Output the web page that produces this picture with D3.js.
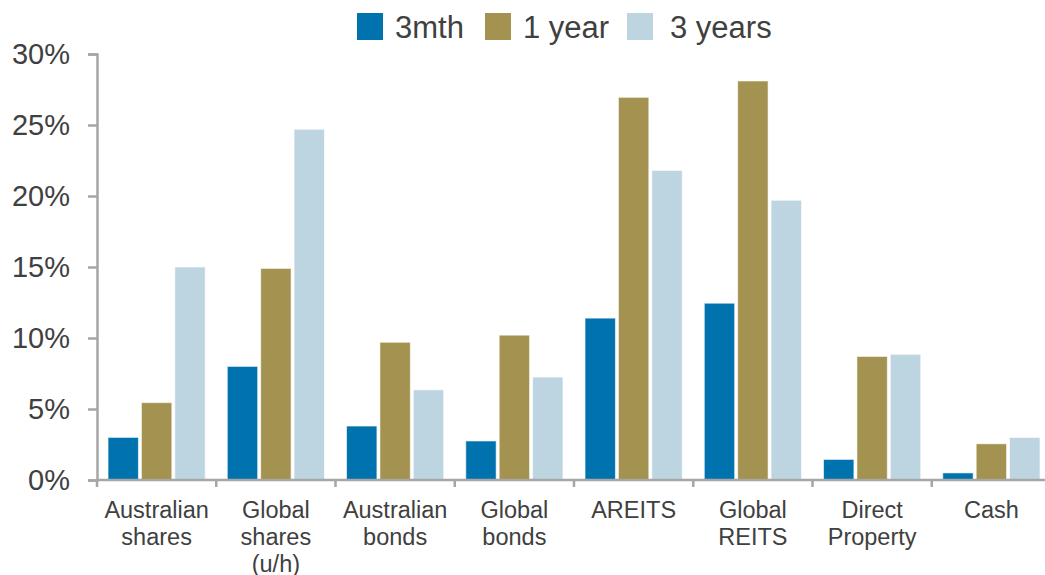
<!DOCTYPE html>
<html>
<head>
<meta charset="utf-8">
<script src="https://cdn.jsdelivr.net/npm/d3@7"></script>
<style>
  body { margin: 0; background: #fff; }
  text { font-family: "Liberation Sans", Arial, sans-serif; fill: #404040; }
</style>
</head>
<body>
<div class="chart"></div>
<script>
var categories = [
  ["Australian", "shares"],
  ["Global", "shares", "(u/h)"],
  ["Australian", "bonds"],
  ["Global", "bonds"],
  ["AREITS"],
  ["Global", "REITS"],
  ["Direct", "Property"],
  ["Cash"]
];
var seriesNames = ["3mth", "1 year", "3 years"];
var seriesColors = ["#0073ae", "#a39250", "#bdd4e1"];

var threeMonth = [3.0, 8.0, 3.8, 2.75, 11.4, 12.45, 1.45, 0.5];
var oneYear = [5.45, 14.9, 9.7, 10.2, 26.95, 28.1, 8.7, 2.55];
var threeYears = [15.0, 24.7, 6.35, 7.25, 21.8, 19.7, 8.85, 3.0];

var yTicks = [0, 5, 10, 15, 20, 25, 30];

var svgWidth = 1045;
var svgHeight = 575;

var rows = categories.map(function (c, i) {
  return { key: i, label: c, values: [threeMonth[i], oneYear[i], threeYears[i]] };
});

var svg = d3.select(".chart")
            .append("svg")
            .attr("width", svgWidth)
            .attr("height", svgHeight);

// scales
var x0 = d3.scaleBand()
  .domain(rows.map(d => d.key))
  .range([97, 1051])
  .paddingInner(0.185)
  .paddingOuter(0.0925);

var x1 = d3.scaleBand()
  .domain([0, 1, 2])
  .range([0, x0.bandwidth()])
  .paddingInner(0.09);

var y = d3.scaleLinear()
  .domain([0, 30])
  .range([480, 54]);

// bars
var groups = svg.selectAll(".group")
  .data(rows)
  .enter()
  .append("g")
  .attr("class", "group")
  .attr("transform", d => `translate(${x0(d.key)},0)`);

groups.selectAll("rect")
  .data(d => d.values.map((v, i) => ({ s: i, v: v })))
  .enter()
  .append("rect")
  .attr("x", d => x1(d.s))
  .attr("y", d => y(d.v))
  .attr("width", x1.bandwidth())
  .attr("height", d => y(0) - y(d.v))
  .attr("fill", d => seriesColors[d.s])
  .attr("stroke", "#ffffff")
  .attr("stroke-opacity", 0.6)
  .attr("stroke-width", 1);

// y axis
var leftAxis = d3.axisLeft(y)
  .tickValues(yTicks)
  .tickSize(9)
  .tickPadding(18)
  .tickFormat(d => d + "%");

var yAxisG = svg.append("g")
  .attr("transform", "translate(97,0)")
  .call(leftAxis);

yAxisG.select(".domain").attr("stroke", "#a6a6a6").attr("stroke-width", 2.5);
yAxisG.selectAll(".tick line").attr("stroke", "#a6a6a6").attr("stroke-width", 2.5);
yAxisG.selectAll(".tick text")
  .attr("font-size", 29)
  .attr("fill", "#404040")
  .attr("font-family", "Liberation Sans, Arial, sans-serif");

// x axis line with tick marks at category boundaries
var step = x0.step();
var edges = rows.map(d => x0(d.key) - (step - x0.bandwidth()) / 2);

svg.append("line")
  .attr("x1", 97).attr("x2", svgWidth)
  .attr("y1", y(0)).attr("y2", y(0))
  .attr("stroke", "#a6a6a6").attr("stroke-width", 2.5);

svg.selectAll(".xtick")
  .data(edges)
  .enter()
  .append("line")
  .attr("class", "xtick")
  .attr("x1", d => d).attr("x2", d => d)
  .attr("y1", y(0)).attr("y2", y(0) + 7)
  .attr("stroke", "#a6a6a6").attr("stroke-width", 2.5);

// category labels
var labels = svg.selectAll(".catlabel")
  .data(rows)
  .enter()
  .append("text")
  .attr("class", "catlabel")
  .attr("text-anchor", "middle")
  .attr("font-size", 23.5)
  .attr("transform", d => `translate(${x0(d.key) + x0.bandwidth() / 2},518)`);

labels.selectAll("tspan")
  .data(d => d.label)
  .enter()
  .append("tspan")
  .attr("x", 0)
  .attr("y", (d, i) => i * 27)
  .text(d => d);

// legend
var legendPos = [357, 485, 627];
var legend = svg.selectAll(".legend")
  .data(seriesNames)
  .enter()
  .append("g")
  .attr("class", "legend")
  .attr("transform", (d, i) => `translate(${legendPos[i]},0)`);

legend.append("rect")
  .attr("x", 0).attr("y", 13)
  .attr("width", 26).attr("height", 27)
  .attr("fill", (d, i) => seriesColors[i]);

legend.append("text")
  .attr("x", (d, i) => i == 2 ? 43 : 38)
  .attr("y", 38)
  .attr("font-size", 31)
  .text(d => d);
</script>
</body>
</html>
